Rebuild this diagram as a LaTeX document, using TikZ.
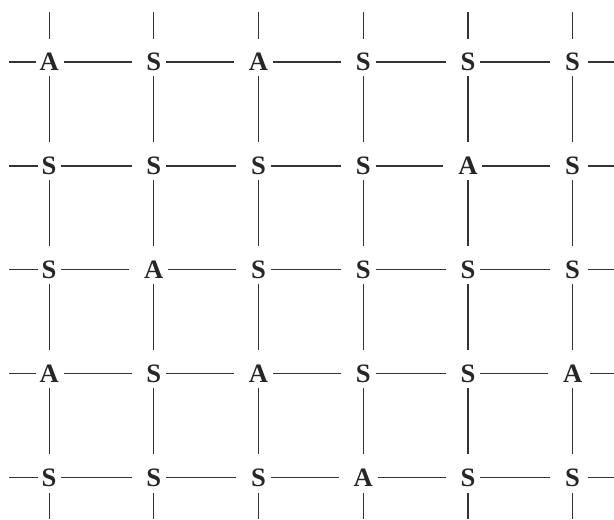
\documentclass[tikz,border=0pt]{standalone}
\usepackage{fontspec}
\setmainfont{Liberation Serif}

\begin{document}
\begin{tikzpicture}[
    site/.style={inner sep=1pt, font=\fontsize{20}{24}\selectfont\bfseries, text height=13.5pt, text depth=0pt, text=black!85},
    link/.style={line width=0.9pt, draw=black!80, shorten <=2.5pt, shorten >=10pt},
    stub/.style={line width=0.9pt, draw=black!80},
]
\useasboundingbox (0,0) rectangle (16.245,-13.732);

\node[site] (r1c1) at (1.30, -1.64) {A};
\node[site] (r1c2) at (4.07, -1.64) {S};
\node[site] (r1c3) at (6.84, -1.64) {A};
\node[site] (r1c4) at (9.61, -1.64) {S};
\node[site] (r1c5) at (12.38, -1.64) {S};
\node[site] (r1c6) at (15.15, -1.64) {S};

\node[site] (r2c1) at (1.30, -4.39) {S};
\node[site] (r2c2) at (4.07, -4.39) {S};
\node[site] (r2c3) at (6.84, -4.39) {S};
\node[site] (r2c4) at (9.61, -4.39) {S};
\node[site] (r2c5) at (12.38, -4.39) {A};
\node[site] (r2c6) at (15.15, -4.39) {S};

\node[site] (r3c1) at (1.30, -7.14) {S};
\node[site] (r3c2) at (4.07, -7.14) {A};
\node[site] (r3c3) at (6.84, -7.14) {S};
\node[site] (r3c4) at (9.61, -7.14) {S};
\node[site] (r3c5) at (12.38, -7.14) {S};
\node[site] (r3c6) at (15.15, -7.14) {S};

\node[site] (r4c1) at (1.30, -9.89) {A};
\node[site] (r4c2) at (4.07, -9.89) {S};
\node[site] (r4c3) at (6.84, -9.89) {A};
\node[site] (r4c4) at (9.61, -9.89) {S};
\node[site] (r4c5) at (12.38, -9.89) {S};
\node[site] (r4c6) at (15.15, -9.89) {A};

\node[site] (r5c1) at (1.30, -12.64) {S};
\node[site] (r5c2) at (4.07, -12.64) {S};
\node[site] (r5c3) at (6.84, -12.64) {S};
\node[site] (r5c4) at (9.61, -12.64) {A};
\node[site] (r5c5) at (12.38, -12.64) {S};
\node[site] (r5c6) at (15.15, -12.64) {S};

% free ends of the bonds at the border
\foreach \col/\x in {1/1.30, 2/4.07, 3/6.84, 4/9.61, 5/12.38, 6/15.15} {
    \coordinate (top\col) at (\x, -0.32);
    \coordinate (bot\col) at (\x, -13.732);
}
\foreach \row/\y in {1/-1.64, 2/-4.39, 3/-7.14, 4/-9.89, 5/-12.64} {
    \coordinate (left\row) at (0.24, \y);
    \coordinate (right\row) at (16.245, \y);
}

% horizontal bonds
\foreach \row in {1,...,5} {
    \draw[stub, shorten >=1.5pt] (left\row) -- (r\row c1);
    \foreach \col [count=\nxt from 2] in {1,...,5}
        \draw[link] (r\row c\col) -- (r\row c\nxt);
    \draw[stub, shorten <=5pt] (r\row c6) -- (right\row);
}

% vertical bonds
\foreach \col in {1,...,6} {
    \draw[stub, shorten >=9.5pt] (top\col) -- (r1c\col);
    \foreach \row [count=\nxt from 2] in {1,...,4}
        \draw[link] (r\row c\col) -- (r\nxt c\col);
    \draw[stub, shorten <=3.5pt] (r5c\col) -- (bot\col);
}

\end{tikzpicture}
\end{document}
